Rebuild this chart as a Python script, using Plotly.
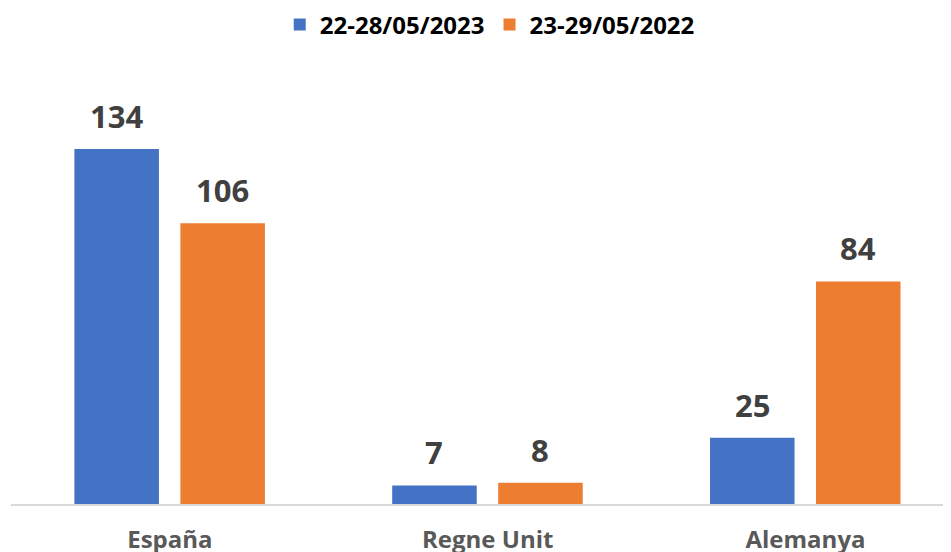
import plotly.graph_objects as go

categories = ["España", "Regne Unit", "Alemanya"]
series_names = ["22-28/05/2023", "23-29/05/2022"]
values_2023 = [134, 7, 25]
values_2022 = [106, 8, 84]

colors = ["#4472C4", "#ED7D31"]
bar_width = 0.266
offsets = [-0.3005, 0.033]

fig = go.Figure()
for name, vals, col, off in zip(series_names, [values_2023, values_2022], colors, offsets):
    fig.add_trace(go.Bar(
        x=list(range(len(categories))), y=vals, name=name,
        marker=dict(color=col, line=dict(width=0)),
        width=bar_width, offset=off,
    ))
    for i, v in enumerate(vals):
        fig.add_annotation(
            x=i + off + bar_width / 2, y=v, text=str(v),
            showarrow=False, yanchor="bottom", yshift=10,
            font=dict(family="Open Sans", size=31, color="#404040", weight="bold"),
        )

fig.update_layout(
    width=951, height=552,
    margin=dict(l=3, r=0, t=62, b=56, autoexpand=False),
    plot_bgcolor="white", paper_bgcolor="white",
    barmode="overlay",
    showlegend=True,
    legend=dict(orientation="h", x=0.505, xanchor="center", y=1.1037, yanchor="middle",
                itemwidth=30,
                font=dict(family="Open Sans", size=24, color="#000000", weight="bold"),
                itemclick=False),
    font=dict(family="Open Sans"),
)
fig.update_xaxes(
    range=[-0.5, 2.483], tickmode="array", tickvals=list(range(len(categories))),
    ticktext=categories, automargin=False,
    tickfont=dict(family="Open Sans", size=24, color="#595959", weight="bold"),
    showline=True, linecolor="#D9D9D9", linewidth=1.5,
    showgrid=False, zeroline=False, ticks="outside", ticklen=13, tickcolor="rgba(0,0,0,0)",
)
fig.update_yaxes(range=[0, 163.8], visible=False, showgrid=False, zeroline=False, automargin=False)

fig.write_html("out.html")
